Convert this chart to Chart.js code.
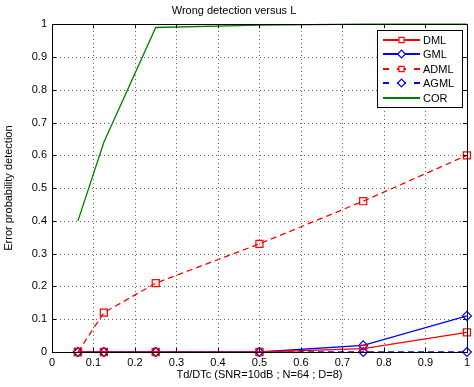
<!DOCTYPE html>
<html>
<head>
<meta charset="utf-8">
<script src="https://cdn.jsdelivr.net/npm/chart.js@4/dist/chart.umd.min.js"></script>
<style>
  html, body { margin: 0; padding: 0; background: #fff; }
  #wrap { width: 474px; height: 387px; }
</style>
</head>
<body>
<div id="wrap"><canvas id="graph1" width="474" height="387"></canvas></div>
<script>
const xVals = [0.0625, 0.125, 0.25, 0.5, 0.75, 1];
const dmlData = [0, 0, 0, 0, 0.01, 0.06];
const gmlData = [0, 0, 0, 0, 0.02, 0.11];
const admlData = [0, 0.12, 0.21, 0.33, 0.46, 0.60];
const agmlData = [0, 0, 0, 0, 0, 0];
const corData = [0.40, 0.64, 0.99, 0.997, 1, 1];
const tickVals = [0, 0.1, 0.2, 0.3, 0.4, 0.5, 0.6, 0.7, 0.8, 0.9, 1];
const seriesNames = ['DML', 'GML', 'ADML', 'AGML', 'COR'];

const RED = '#ff0000', BLUE = '#0000ff', GREEN = '#008000';
const legendStyle = [
  { color: RED, marker: 'rect', dash: [] },
  { color: BLUE, marker: 'rectRot', dash: [] },
  { color: RED, marker: 'rect', dash: [6, 4] },
  { color: BLUE, marker: 'rectRot', dash: [6, 4] },
  { color: GREEN, marker: null, dash: [] },
];

const pts = arr => arr.map((v, i) => ({ x: xVals[i], y: v }));
const FONT = 'Liberation Sans, Arial, sans-serif';

function series(i, data) {
  const st = legendStyle[i];
  return {
    label: seriesNames[i],
    data: pts(data),
    borderColor: st.color,
    backgroundColor: st.color,
    borderWidth: 1.3,
    borderDash: st.dash,
    pointStyle: st.marker || false,
    pointRadius: st.marker ? (st.marker === 'rect' ? 5 : 4.5) : 0,
    pointBorderColor: st.color,
    pointBackgroundColor: 'rgba(0,0,0,0)',
    pointBorderWidth: 1.2,
    tension: 0,
    clip: false,
  };
}

// dotted grid drawn under the lines
const dottedGrid = {
  id: 'dottedGrid',
  beforeDatasetsDraw(chart) {
    const { ctx, chartArea: a, scales } = chart;
    ctx.save();
    ctx.strokeStyle = 'rgba(0,0,0,0.6)';
    ctx.lineWidth = 1;
    ctx.setLineDash([1, 3]);
    ctx.beginPath();
    tickVals.slice(1, -1).forEach(t => {
      const px = Math.round(scales.x.getPixelForValue(t)) + 0.5;
      ctx.moveTo(px, a.bottom); ctx.lineTo(px, a.top);
      const py = Math.round(scales.y.getPixelForValue(t)) + 0.5;
      ctx.moveTo(a.left, py); ctx.lineTo(a.right, py);
    });
    ctx.stroke();
    ctx.restore();
  }
};

// frame, inward ticks and the legend box, matlab style
const matlabBox = {
  id: 'matlabBox',
  afterDraw(chart) {
    const { ctx, chartArea: a, scales } = chart;
    ctx.save();
    ctx.strokeStyle = '#000';
    ctx.lineWidth = 1;
    ctx.setLineDash([]);
    ctx.strokeRect(Math.round(a.left) + 0.5, Math.round(a.top) + 0.5,
      Math.round(a.right - a.left), Math.round(a.bottom - a.top));
    ctx.beginPath();
    tickVals.forEach(t => {
      const px = Math.round(scales.x.getPixelForValue(t)) + 0.5;
      ctx.moveTo(px, a.bottom); ctx.lineTo(px, a.bottom - 4);
      ctx.moveTo(px, a.top); ctx.lineTo(px, a.top + 4);
      const py = Math.round(scales.y.getPixelForValue(t)) + 0.5;
      ctx.moveTo(a.left, py); ctx.lineTo(a.left + 4, py);
      ctx.moveTo(a.right, py); ctx.lineTo(a.right - 4, py);
    });
    ctx.stroke();

    // legend
    const lx = 377.5, ly = 30.5, lw = 85, lh = 77;
    ctx.fillStyle = '#fff';
    ctx.fillRect(lx, ly, lw, lh);
    ctx.strokeRect(lx, ly, lw, lh);
    ctx.font = '11px ' + FONT;
    ctx.textBaseline = 'middle';
    legendStyle.forEach((st, i) => {
      const y = Math.round(38.5 + i * 14.6);
      ctx.fillStyle = st.color;
      if (st.dash.length) {
        [[383, 389], [397, 406], [414, 420]].forEach(s => ctx.fillRect(s[0], y, s[1] - s[0], 2));
      } else {
        ctx.fillRect(383, y, 37, 2);
      }
      if (st.marker) {
        ctx.strokeStyle = st.color;
        ctx.fillStyle = '#fff';
        ctx.lineWidth = 1.2;
        Chart.helpers.drawPoint(ctx, { pointStyle: st.marker, radius: st.marker === 'rect' ? 3.6 : 3.8, borderWidth: 1.2 }, 401.5, y + 1);
      }
      ctx.fillStyle = '#000';
      ctx.fillText(seriesNames[i], 423, y + 1.5);
    });
    ctx.restore();
  }
};

new Chart(document.getElementById('graph1'), {
  type: 'line',
  data: {
    datasets: [
      series(0, dmlData),
      series(1, gmlData),
      series(2, admlData),
      series(3, agmlData),
      series(4, corData),
    ],
  },
  options: {
    responsive: false,
    animation: false,
    layout: { padding: { left: 0, right: 6, top: 0, bottom: 0 } },
    plugins: {
      legend: { display: false },
      tooltip: { enabled: false },
      title: {
        display: true,
        text: 'Wrong detection versus L',
        color: '#000',
        font: { family: FONT, size: 11, weight: 'normal' },
        padding: { top: 4, bottom: 7 },
      },
    },
    scales: {
      x: {
        type: 'linear',
        min: 0, max: 1,
        afterFit: s => { s.height = 35; },
        afterBuildTicks: s => { s.ticks = tickVals.map(v => ({ value: v })); },
        ticks: {
          color: '#000',
          padding: 4,
          maxRotation: 0,
          font: { family: FONT, size: 11 },
          callback: v => String(+v.toFixed(1)),
        },
        grid: { display: false, drawTicks: false },
        border: { display: false },
        title: {
          display: true,
          text: 'Td/DTc (SNR=10dB ; N=64 ; D=8)',
          color: '#000',
          font: { family: FONT, size: 11 },
          padding: { top: 0, bottom: 5 },
        },
      },
      y: {
        min: 0, max: 1,
        afterFit: s => { s.width = 52; },
        afterBuildTicks: s => { s.ticks = tickVals.map(v => ({ value: v })); },
        ticks: {
          color: '#000',
          padding: 5,
          font: { family: FONT, size: 11 },
          callback: v => String(+v.toFixed(1)),
        },
        grid: { display: false, drawTicks: false },
        border: { display: false },
        title: {
          display: true,
          text: 'Error probability detection',
          color: '#000',
          font: { family: FONT, size: 11 },
          padding: { top: 2, bottom: 0 },
        },
      },
    },
  },
  plugins: [dottedGrid, matlabBox],
});
</script>
</body>
</html>
